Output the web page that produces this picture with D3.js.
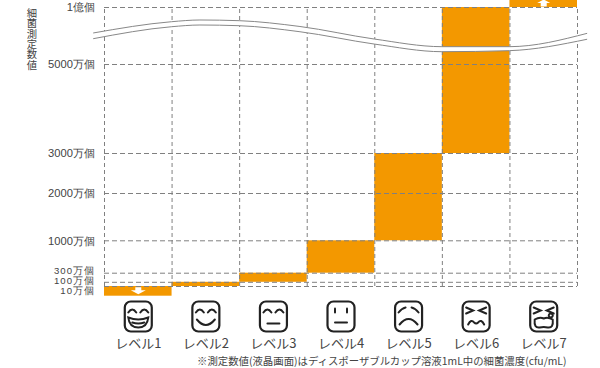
<!DOCTYPE html>
<html>
<head>
<meta charset="utf-8">
<script src="https://cdn.jsdelivr.net/npm/d3@7"></script>
<style>
  html, body { margin: 0; padding: 0; background: #fff; }
  svg { display: block; font-family: "Noto Sans CJK JP", "Noto Sans", sans-serif; }
</style>
</head>
<body>
<div id="chart"></div>
<script>
// values are in units of 万個
const levels = ["レベル1", "レベル2", "レベル3", "レベル4", "レベル5", "レベル6", "レベル7"];
const barLow = [0, 10, 100, 300, 1000, 3000, 10000];
const barHigh = [10, 100, 300, 1000, 3000, 10000, 12000];
const tickValues = [10, 100, 300, 1000, 2000, 3000, 5000, 10000];
const tickLabels = ["10万個", "100万個", "300万個", "1000万個", "2000万個", "3000万個", "5000万個", "1億個"];
const tickNudge = [4, -2, -3, 0, 0, 0, 0, 0];
const yTitle = "細菌測定数値";
const footnote = "※測定数値(液晶画面)はディスポーザブルカップ溶液1mL中の細菌濃度(cfu/mL)";

// the axis break, x in level widths from the left edge, y in 万個
const breakX = [-0.16, 1, 1.42, 2, 2.9, 4, 5, 6, 7.15];
const breakTop = [7720, 8710, 8860, 8800, 8290, 7190, 6520, 6520, 7690];
const breakBottom = [7220, 8270, 8420, 8360, 7830, 6750, 6080, 6170, 7170];

// face icons, one list of strokes per level, drawn around the icon centre
const smileEyes = ["M-10,-4Q-6,-10 -2,-4", "M2,-4Q6,-10 10,-4"];
const crossEyes = ["M-10,-9L-3,-6L-10,-3", "M10,-9L3,-6L10,-3"];
const faces = [
    smileEyes.concat(["M-10,1Q0,5 10,1Q9,11 0,11Q-9,11 -10,1Z", "M-6,6Q0,8 6,6"]),
    smileEyes.concat(["M-9,3Q0,14 9,3"]),
    smileEyes.concat(["M-6,7H6"]),
    ["M-6,-8V-4", "M6,-8V-4", "M-6,6H6"],
    ["M-10,-4Q-7,-8 -3,-9", "M10,-4Q7,-8 3,-9", "M-9,8Q0,-3 9,8"],
    crossEyes.concat(["M-8,8Q-5,2 -2,6Q0,8 2,6Q5,2 8,8"]),
    crossEyes.concat(["M-9,3Q-4,0 0,2Q4,0 9,3Q10,12 4,11Q0,10 -4,11Q-10,12 -9,3Z", "M7,-3a2,2 0 1,0 0.1,0"])
];

const width = 600;
const height = 368;
const orange = "#f39800";
const gridColor = "#808080";
const textColor = "#444";

const svg = d3.select("#chart").append("svg")
    .attr("width", width)
    .attr("height", height);

const xScale = d3.scaleBand().domain(levels).range([104, 577]);
const xBreak = d3.scaleLinear().domain([0, 7]).range([104, 577]);
// the axis is not linear, every stretch has its own scale in the original
const yScale = d3.scaleLinear()
    .domain([0, 10, 100, 300, 1000, 2000, 3000, 5000, 10000, 12000])
    .range([295.7, 286, 281.8, 272.7, 240.3, 193, 153, 64, 7, -3]);

const levelCentre = d => xScale(d) + xScale.bandwidth() / 2 + 0.5;

// bars
svg.append("g").selectAll("rect")
    .data(levels)
    .enter()
    .append("rect")
    .attr("x", d => xScale(d))
    .attr("y", (d, i) => yScale(barHigh[i]))
    .attr("width", xScale.bandwidth())
    .attr("height", (d, i) => yScale(barLow[i]) - yScale(barHigh[i]))
    .attr("fill", orange);

// grid, drawn over the bars
const yAxis = d3.axisLeft(yScale)
    .tickValues(tickValues)
    .tickSize(-(577 - 104))
    .tickPadding(9)
    .tickFormat((d, i) => tickLabels[i]);
const yGroup = svg.append("g")
    .attr("transform", "translate(104,0)")
    .call(yAxis);
yGroup.select(".domain").remove();
yGroup.selectAll(".tick line")
    .attr("stroke", gridColor)
    .attr("stroke-dasharray", "5,3");
// the three lowest labels sit only 10px apart, smaller type and wider spacing
yGroup.selectAll(".tick text")
    .attr("transform", (d, i) => "translate(0," + tickNudge[i] + ")")
    .attr("dy", "0.35em")
    .style("font-size", d => d < 1000 ? "9.6px" : "11.2px")
    .style("letter-spacing", d => d < 1000 ? "1px" : "0")
    .style("fill", textColor);

const xAxis = d3.axisBottom(xBreak)
    .tickValues(d3.range(8))
    .tickSize(-(yScale(10) - yScale(10000)))
    .tickFormat("");
const xGroup = svg.append("g")
    .attr("transform", "translate(0," + yScale(10) + ")")
    .call(xAxis);
xGroup.select(".domain").remove();
xGroup.selectAll(".tick line")
    .attr("stroke", gridColor)
    .attr("stroke-dasharray", "4,3");

// break across the axis
const breakPoints = breakX.map((d, i) => ({ x: d, top: breakTop[i], bottom: breakBottom[i] }));
svg.append("path")
    .datum(breakPoints)
    .attr("d", d3.area()
        .x(d => xBreak(d.x))
        .y0(d => yScale(d.bottom))
        .y1(d => yScale(d.top))
        .curve(d3.curveMonotoneX))
    .attr("fill", "#fff");
[breakTop, breakBottom].forEach(values => {
    svg.append("path")
        .datum(values)
        .attr("d", d3.line()
            .x((d, i) => xBreak(breakX[i]))
            .y(d => yScale(d))
            .curve(d3.curveMonotoneX))
        .attr("fill", "none")
        .attr("stroke", "#888")
        .attr("stroke-width", 1);
});

// y title
svg.append("text")
    .attr("x", 32)
    .attr("y", 8)
    .text(yTitle)
    .style("writing-mode", "vertical-rl")
    .style("font-size", "10.3px")
    .style("fill", textColor);

// white arrows in the open ended bars
svg.append("path")
    .attr("transform", "translate(" + levelCentre(levels[0]) + "," + yScale(5) + ")")
    .attr("d", "M-3,-3.5H3V-0.5H7.5L0,3.5L-7.5,-0.5H-3Z")
    .attr("fill", "#fff");
svg.append("path")
    .attr("transform", "translate(" + levelCentre(levels[6]) + "," + yScale(11000) + ")")
    .attr("d", "M-3,4.5H3V1H6.5L0,-2.5L-6.5,1H-3Z")
    .attr("fill", "#fff");

// face icons
const faceGroups = svg.append("g").selectAll("g")
    .data(levels)
    .enter()
    .append("g")
    .attr("transform", d => "translate(" + levelCentre(d) + ",316.5)")
    .attr("fill", "none")
    .attr("stroke", "#222")
    .attr("stroke-width", 2)
    .attr("stroke-linecap", "round");
faceGroups.append("rect")
    .attr("x", -13.5)
    .attr("y", -15)
    .attr("width", 27)
    .attr("height", 30)
    .attr("rx", 6)
    .attr("stroke-width", 2.2);
faceGroups.selectAll("path")
    .data((d, i) => faces[i])
    .enter()
    .append("path")
    .attr("d", d => d);

// level labels
svg.append("g").selectAll("text.level")
    .data(levels)
    .enter()
    .append("text")
    .attr("class", "level")
    .attr("x", levelCentre)
    .attr("y", 348)
    .attr("text-anchor", "middle")
    .text(d => d)
    .style("font-size", "13px")
    .style("fill", textColor);

svg.append("text")
    .attr("x", 197)
    .attr("y", 365)
    .text(footnote)
    .style("font-size", "10.4px")
    .style("fill", textColor);
</script>
</body>
</html>
